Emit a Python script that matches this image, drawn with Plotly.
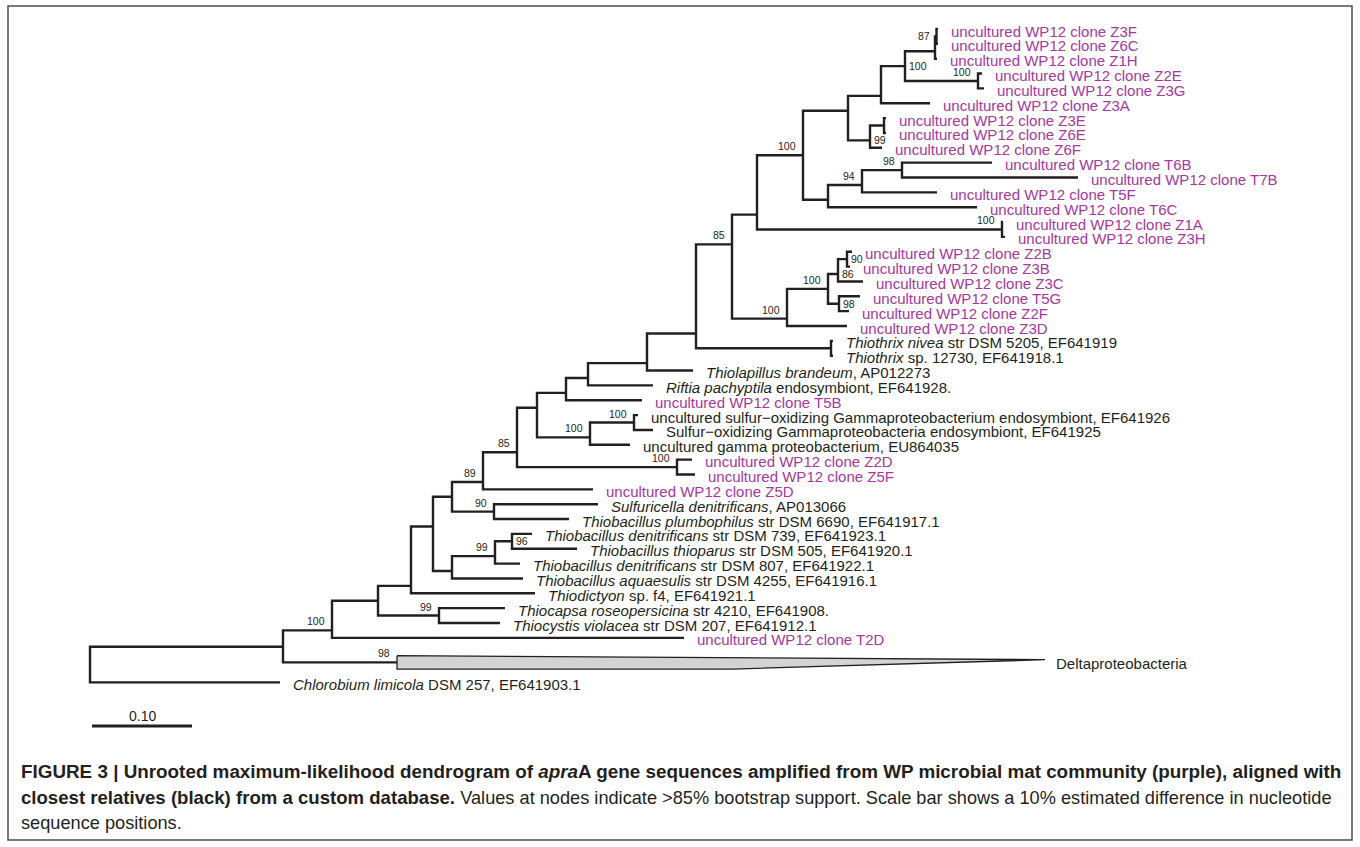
import plotly.graph_objects as go

# ------------------------------------------------------------------ data
# leaves, listed top to bottom (row = position in this list, Chlorobium below the collapsed clade)
leaf_labels = [
    "uncultured WP12 clone Z3F", "uncultured WP12 clone Z6C", "uncultured WP12 clone Z1H",
    "uncultured WP12 clone Z2E", "uncultured WP12 clone Z3G", "uncultured WP12 clone Z3A",
    "uncultured WP12 clone Z3E", "uncultured WP12 clone Z6E", "uncultured WP12 clone Z6F",
    "uncultured WP12 clone T6B", "uncultured WP12 clone T7B", "uncultured WP12 clone T5F",
    "uncultured WP12 clone T6C", "uncultured WP12 clone Z1A", "uncultured WP12 clone Z3H",
    "uncultured WP12 clone Z2B", "uncultured WP12 clone Z3B", "uncultured WP12 clone Z3C",
    "uncultured WP12 clone T5G", "uncultured WP12 clone Z2F", "uncultured WP12 clone Z3D",
    "<i>Thiothrix nivea</i> str DSM 5205, EF641919",
    "<i>Thiothrix</i> sp. 12730, EF641918.1",
    "<i>Thiolapillus brandeum</i>, AP012273",
    "<i>Riftia pachyptila</i> endosymbiont, EF641928.",
    "uncultured WP12 clone T5B",
    "uncultured sulfur\u2212oxidizing Gammaproteobacterium endosymbiont, EF641926",
    "Sulfur\u2212oxidizing Gammaproteobacteria endosymbiont, EF641925",
    "uncultured gamma proteobacterium, EU864035",
    "uncultured WP12 clone Z2D", "uncultured WP12 clone Z5F", "uncultured WP12 clone Z5D",
    "<i>Sulfuricella denitrificans</i>, AP013066",
    "<i>Thiobacillus plumbophilus</i> str DSM 6690, EF641917.1",
    "<i>Thiobacillus denitrificans</i> str DSM 739, EF641923.1",
    "<i>Thiobacillus thioparus</i> str DSM 505, EF641920.1",
    "<i>Thiobacillus denitrificans</i> str DSM 807, EF641922.1",
    "<i>Thiobacillus aquaesulis</i> str DSM 4255, EF641916.1",
    "<i>Thiodictyon</i> sp. f4, EF641921.1",
    "<i>Thiocapsa roseopersicina</i> str 4210, EF641908.",
    "<i>Thiocystis violacea</i> str DSM 207, EF641912.1",
    "uncultured WP12 clone T2D",
    "<i>Chlorobium limicola</i> DSM 257, EF641903.1",
]
leaf_parent = [
    "n87", "n87", "nZ1H", "n100e", "n100e", "n881", "n884", "n884", "n99a",
    "n98a", "n98a", "n94", "n828a", "n100f", "n100f", "n90a", "n90a", "n838a",
    "n98b", "n98b", "n100d", "nThio", "nThio", "n647", "n588", "n566",
    "n100h", "n100h", "n100g", "n100i", "n100i", "n89", "n90b", "n90b",
    "n96", "n96", "n99b", "n452c", "n411", "n99c", "n99c", "n100a", "root",
]
leaf_depth = [
    0.848, 0.848, 0.847, 0.892, 0.894, 0.840, 0.796, 0.796, 0.792,
    0.902, 0.988, 0.847, 0.887, 0.913, 0.915, 0.762, 0.760, 0.773,
    0.770, 0.759, 0.757, 0.743, 0.743, 0.603, 0.563, 0.552,
    0.548, 0.563, 0.540, 0.602, 0.605, 0.503, 0.508, 0.479,
    0.442, 0.487, 0.430, 0.433, 0.445, 0.415, 0.410, 0.594, 0.190,
]
leaf_purple = [True] * 21 + [False, False, False, False, True, False, False, False,
                             True, True, True] + [False] * 9 + [True, False]
leaf_rows = list(range(42)) + [44.0]

# internal nodes: name, parent, cumulative depth, bootstrap, label side
node_names = ["root", "n283", "n100a", "n378", "n99c", "n411", "n433", "n452b", "n452c",
              "n90b", "n99b", "n96", "n89", "n85b", "n100i", "n537", "n100g", "n100h",
              "n566", "n588", "n647", "n696", "nThio", "n85a", "n100d", "n828b", "n98b",
              "n838a", "n90a", "n757", "n100f", "n803", "n828a", "n94", "n98a", "n848",
              "n99a", "n884", "n881", "n100c", "nZ1H", "n87", "n100e"]
node_parent = [None, "root", "n283", "n100a", "n378", "n378", "n411", "n433", "n433",
               "n452b", "n452c", "n99b", "n452b", "n89", "n85b", "n85b", "n537", "n100g",
               "n537", "n566", "n588", "n647", "n696", "n696", "n85a", "n100d", "n828b",
               "n828b", "n838a", "n85a", "n757", "n757", "n803", "n828a", "n94", "n803",
               "n848", "n99a", "n848", "n881", "n100c", "nZ1H", "n100c"]
node_depth = [0.000, 0.193, 0.242, 0.288, 0.349, 0.321, 0.343, 0.362, 0.362,
              0.404, 0.405, 0.422, 0.393, 0.427, 0.587, 0.447, 0.500, 0.544,
              0.476, 0.498, 0.557, 0.606, 0.741, 0.642, 0.697, 0.738, 0.749,
              0.748, 0.757, 0.667, 0.912, 0.713, 0.738, 0.772, 0.812, 0.758,
              0.780, 0.794, 0.791, 0.815, 0.845, 0.8465, 0.888]
node_support = [None, None, 100, None, 99, None, None, None, None,
                90, 99, 96, 89, 85, 100, None, 100, 100,
                None, None, None, None, None, 85, 100, 100, 98,
                86, 90, None, 100, 100, None, 94, 98, None,
                99, None, None, 100, None, 87, 100]
node_support_side = ["", "", "a", "", "a", "", "", "", "",
                     "a", "a", "r", "a", "a", "a", "", "a", "a",
                     "", "", "", "", "", "a", "a", "a", "r",
                     "r", "r", "", "a", "a", "", "a", "a", "",
                     "r", "", "", "r", "", "l", "a"]

# collapsed clade
collapsed_label = "Deltaproteobacteria"
collapsed_parent = "n283"
collapsed_depth = 0.307
collapsed_tip_min = 0.643
collapsed_tip_max = 0.955
collapsed_rows = (42.2, 43.1)
collapsed_support = 98

scale_bar_length = 0.10
scale_bar_label = "0.10"

caption_lines = [
    "<b>FIGURE 3 | Unrooted maximum-likelihood dendrogram of <i>apra</i>A gene sequences "
    "amplified from WP microbial mat community (purple), aligned with</b>",
    "<b>closest relatives (black) from a custom database.</b> "
    "<span style='font-size:18.2px'>Values at nodes indicate >85% "
    "bootstrap support. Scale bar shows a 10% estimated difference in nucleotide</span>",
    "sequence positions.",
]
caption_sizes = [18.85, 18.6, 18.2]

# ------------------------------------------------------------------ layout of the tree
INK = "#231f20"
PURPLE = "#a3389d"
FONT = "Liberation Sans, Arial, sans-serif"

depth = dict(zip(node_names, node_depth))
children = {n: [] for n in node_names}
for n, p in zip(node_names, node_parent):
    if p:
        children[p].append(("node", n))
for i, p in enumerate(leaf_parent):
    children[p].append(("leaf", i))
children[collapsed_parent].append(("clade", 0))

memo = {}


def info(key):
    """returns x, y, first row, last row"""
    if key in memo:
        return memo[key]
    kind, k = key
    if kind == "leaf":
        r = leaf_rows[k]
        res = (leaf_depth[k], r, r, r)
    elif kind == "clade":
        a, b = collapsed_rows
        res = (collapsed_depth, (a + b) / 2, a, b)
    else:
        ch = sorted((info(c) for c in children[k]), key=lambda t: t[2])
        y = (ch[0][3] + ch[-1][2]) / 2
        res = (depth[k], y, ch[0][2], ch[-1][3])
    memo[key] = res
    return res


xs, ys = [], []
for n in node_names:
    nx = depth[n]
    ch = sorted((info(c) for c in children[n]), key=lambda t: t[2])
    first, last = ch[0], ch[-1]
    xs += [first[0], nx, nx, last[0], None]
    ys += [first[1], first[1], last[1], last[1], None]
    for c in ch[1:-1]:
        xs += [nx, c[0], None]
        ys += [c[1], c[1], None]

fig = go.Figure()
fig.add_trace(go.Scatter(x=xs, y=ys, mode="lines", line=dict(color=INK, width=2.4),
                         hoverinfo="skip", showlegend=False))

# collapsed clade triangle
ca, cb = collapsed_rows
fig.add_trace(go.Scatter(
    x=[collapsed_depth, collapsed_tip_max, collapsed_tip_min, collapsed_depth, collapsed_depth],
    y=[ca, ca + 0.3 * (cb - ca), cb, cb, ca],
    mode="lines", fill="toself", fillcolor="#d3d3d3",
    line=dict(color=INK, width=1.3), hoverinfo="skip", showlegend=False))

# scale bar
sb_x0, sb_row = 0.002, 46.94
fig.add_trace(go.Scatter(x=[sb_x0, sb_x0 + scale_bar_length], y=[sb_row, sb_row], mode="lines",
                         line=dict(color=INK, width=3), hoverinfo="skip", showlegend=False))

ann = []
for i, lab in enumerate(leaf_labels):
    x, y, _, _ = info(("leaf", i))
    ann.append(dict(x=x, y=y, text=lab, xanchor="left", yanchor="middle", xshift=11, yshift=-2,
                    showarrow=False, font=dict(family=FONT, size=15,
                                               color=PURPLE if leaf_purple[i] else INK)))
cx, cy, _, _ = info(("clade", 0))
ann.append(dict(x=collapsed_tip_max, y=cy, text=collapsed_label, xanchor="left", yanchor="middle",
                xshift=9, yshift=-1, showarrow=False, font=dict(family=FONT, size=15, color=INK)))

sup_font = dict(family=FONT, size=10.5, color=INK)


def support_label(x, y, val, side):
    if side == "a":
        return dict(x=x, y=y, text=str(val), xanchor="right", yanchor="bottom", xshift=-5,
                    yshift=1, showarrow=False, font=sup_font)
    if side == "r":
        return dict(x=x, y=y, text=str(val), xanchor="left", yanchor="middle", xshift=2,
                    yshift=0, showarrow=False, font=sup_font)
    return dict(x=x, y=y, text=str(val), xanchor="right", yanchor="middle", xshift=-5,
                yshift=0, showarrow=False, font=sup_font)


for n, s, side in zip(node_names, node_support, node_support_side):
    if s is None:
        continue
    x, y, _, _ = info(("node", n))
    ann.append(support_label(x, y, s, side))
ann.append(support_label(collapsed_depth, cy, collapsed_support, "a"))

ann.append(dict(x=sb_x0 + scale_bar_length / 2, y=sb_row, text=scale_bar_label, xanchor="center",
                yanchor="bottom", yshift=0, showarrow=False,
                font=dict(family=FONT, size=14, color=INK)))

W, H = 1360, 847
for line, size, py in zip(caption_lines, caption_sizes, [771.5, 797.5, 822.5]):
    ann.append(dict(x=19 / W, y=1 - py / H, xref="paper", yref="paper", text=line,
                    xanchor="left", yanchor="middle", showarrow=False,
                    font=dict(family=FONT, size=size, color=INK)))

fig.update_layout(
    width=W, height=H, margin=dict(l=0, r=0, t=0, b=0),
    paper_bgcolor="white", plot_bgcolor="white",
    xaxis=dict(range=[-0.090, 1.270], visible=False, fixedrange=True),
    yaxis=dict(range=[(H - 29) / 14.85, -29 / 14.85], visible=False, fixedrange=True),
    annotations=ann,
    shapes=[dict(type="rect", xref="paper", yref="paper", x0=8 / W, x1=1352 / W,
                 y0=1 - 840 / H, y1=1 - 6 / H, line=dict(color="#4d4d4d", width=1.5))],
)

fig.write_html("out.html", include_plotlyjs=True, config={"displayModeBar": False},
               post_script="document.body.style.margin='0';document.body.style.overflow='hidden';")
